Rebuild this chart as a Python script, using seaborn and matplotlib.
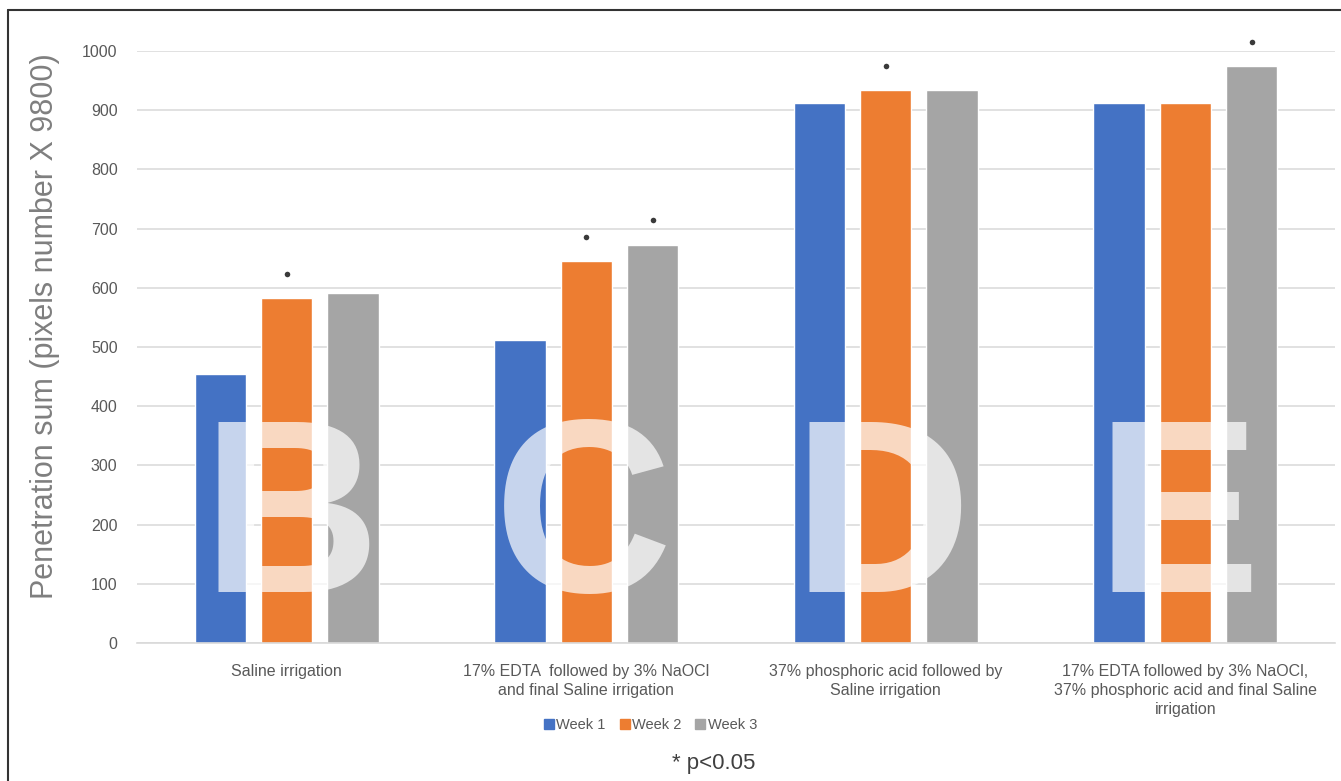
import matplotlib
matplotlib.use("Agg")
import matplotlib.pyplot as plt
from matplotlib.lines import Line2D
import pandas as pd
import seaborn as sns

# Treatment groups (x categories)
treatments = [
    "Saline irrigation",
    "17% EDTA  followed by 3% NaOCl\nand final Saline irrigation",
    "37% phosphoric acid followed by\nSaline irrigation",
    "17% EDTA followed by 3% NaOCl,\n37% phosphoric acid and final Saline\nirrigation",
]
weeks = ["Week 1", "Week 2", "Week 3"]

# Penetration sum per week (pixels number x 9800)
week1 = [455, 512, 912, 912]
week2 = [583, 645, 934, 912]
week3 = [591, 673, 934, 975]

# Significance flags (p<0.05) per week, per treatment
sig_week1 = [False, False, False, False]
sig_week2 = [True, True, True, False]
sig_week3 = [False, True, False, True]

panel_letters = ["B", "C", "D", "E"]
y_ticks = list(range(0, 1001, 100))

colors = ["#4472C4", "#ED7D31", "#A5A5A5"]

df = pd.DataFrame({
    "treatment": treatments * 3,
    "week": [w for w in weeks for _ in treatments],
    "value": week1 + week2 + week3,
})

sns.set_style("white")
plt.rcParams["font.family"] = ["Liberation Sans", "DejaVu Sans"]

fig = plt.figure(figsize=(13.41, 7.81), dpi=100)
ax = fig.add_axes([137 / 1341, 1 - 643 / 781, (1335 - 137) / 1341, (643 - 51) / 781])

sns.barplot(data=df, x="treatment", y="value", hue="week", order=treatments,
            hue_order=weeks, palette=colors, width=0.664, gap=0.227,
            saturation=1, legend=False, ax=ax, zorder=2)

ax.set_ylim(0, 1000)
ax.set_xlim(-0.5, len(treatments) - 0.5)
ax.set_yticks(y_ticks)
ax.set_yticklabels([str(t) for t in y_ticks])
ax.grid(axis="y", color="#d9d9d9", linewidth=1.1)
ax.set_axisbelow(True)
for side in ["top", "right", "left"]:
    ax.spines[side].set_visible(False)
ax.spines["bottom"].set_color("#d9d9d9")
ax.spines["bottom"].set_linewidth(1.2)
ax.tick_params(axis="both", length=0, labelsize=11.5, labelcolor="#595959")
ax.tick_params(axis="y", pad=14)
ax.tick_params(axis="x", pad=15)
for lbl in ax.get_xticklabels():
    lbl.set_linespacing(1.35)
ax.set_xlabel("")
ax.set_ylabel("Penetration sum (pixels number X 9800)", fontsize=22, color="#7f7f7f")
ax.yaxis.set_label_coords(-0.064, 0.535)

# Significance markers above flagged bars
sig_flags = [sig_week1, sig_week2, sig_week3]
for container, flags in zip(ax.containers, sig_flags):
    for bar, flag in zip(container.patches, flags):
        if flag:
            xc = bar.get_x() + bar.get_width() / 2
            ax.scatter([xc], [bar.get_height() + 41], s=16, color="#3a3a3a",
                       zorder=5, clip_on=False, linewidths=0)

# Large translucent panel letters over each group
letter_x = [0.012, 0.99, 1.985, 2.975]
for xl, letter in zip(letter_x, panel_letters):
    ax.text(xl, 86, letter, fontsize=178, fontweight="bold", color="white",
            alpha=0.7, ha="center", va="baseline", zorder=4)

handles = [Line2D([0], [0], marker="s", linestyle="none", markersize=7,
                  markerfacecolor=c, markeredgecolor=c) for c in colors]
fig.legend(handles, weeks, loc="center", bbox_to_anchor=(650 / 1341, 1 - 725 / 781),
           ncol=3, frameon=False, fontsize=10.5, handletextpad=0.1,
           columnspacing=0.9, handlelength=0.8, labelcolor="#595959")

fig.text(714 / 1341, 1 - 763 / 781, "* p<0.05", fontsize=16, color="#404040",
         ha="center", va="center")

# Frame lines on the left and top edges
fig.add_artist(Line2D([8 / 1341, 8 / 1341], [0, 1 - 10 / 781], color="#333333",
                      linewidth=1.5, transform=fig.transFigure))
fig.add_artist(Line2D([8 / 1341, 1], [1 - 10 / 781, 1 - 10 / 781], color="#333333",
                      linewidth=1.5, transform=fig.transFigure))

fig.savefig("out.png", dpi=100, facecolor="white")
